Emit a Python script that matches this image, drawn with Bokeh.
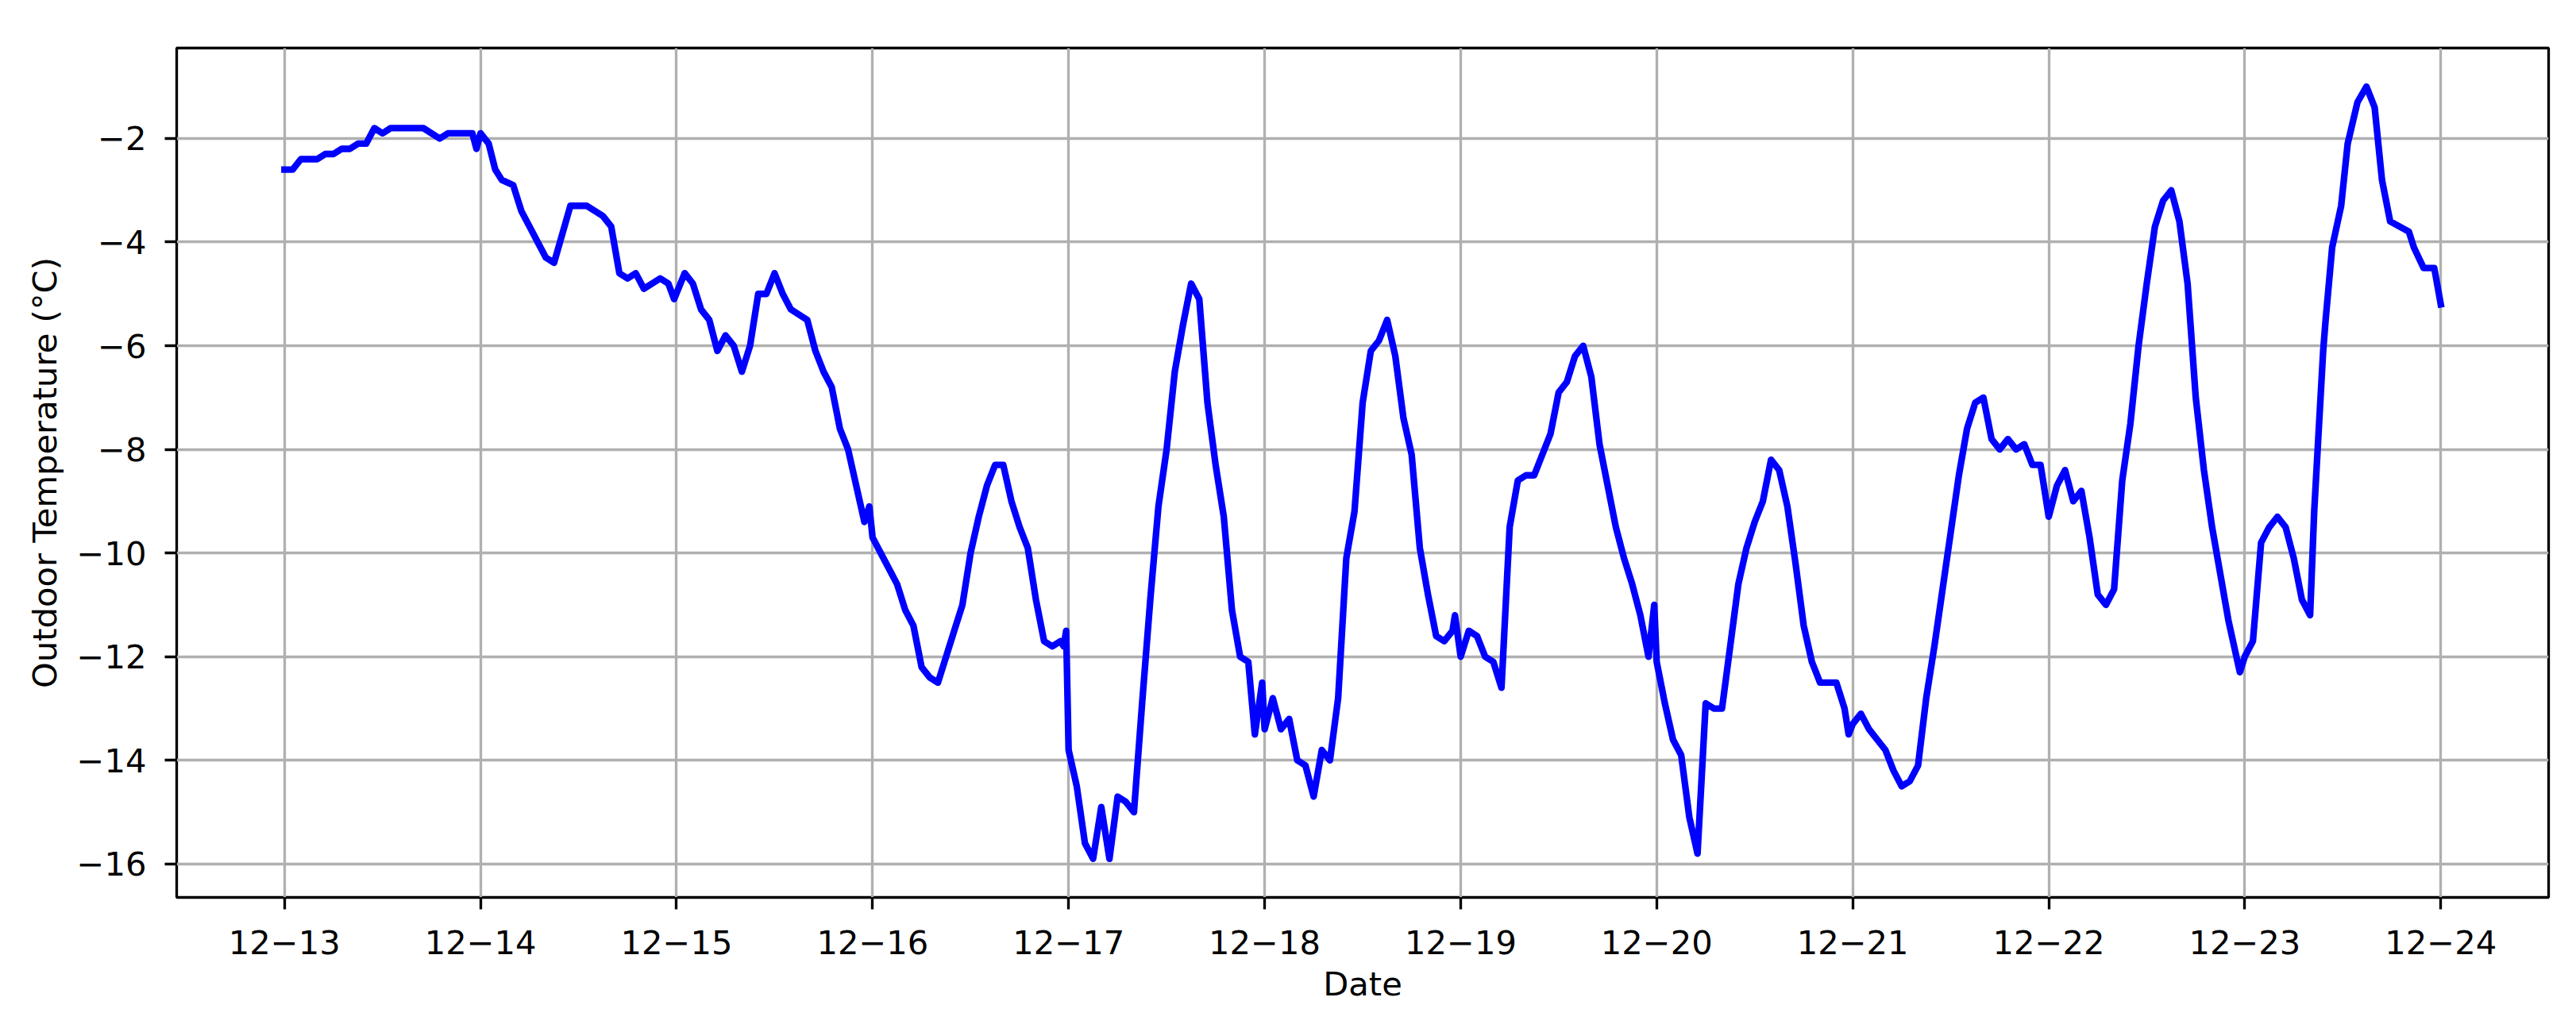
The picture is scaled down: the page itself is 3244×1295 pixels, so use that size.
import pandas as pd
from bokeh.plotting import figure
from bokeh.models import Range1d, FixedTicker, DatetimeTickFormatter, ColumnDataSource
from bokeh.embed import file_html
from bokeh.resources import INLINE

# Data: hours since 12-13 00:00 and outdoor temperature (°C)
start_date = "2023-12-13"
hours = [0, 1, 2, 4, 5, 6, 7, 8, 9, 10, 11, 12, 13, 17, 19, 20, 23, 23.5, 24, 25,
         25.8, 26.6, 28, 29, 30, 31, 32, 33, 35, 37, 38, 39, 40, 41, 42, 43, 44, 46, 47, 47.7,
         49, 50, 51, 52, 53, 54, 55, 56, 57, 58, 59, 60, 61, 62, 64, 65, 66, 67, 68, 69,
         70, 71, 71.6, 72, 73, 74, 75, 76, 77, 78, 79, 80, 81, 82, 83, 84, 85, 86, 87, 88,
         89, 90, 91, 92, 93, 94, 95, 95.4, 95.7, 96, 97, 98, 99, 100, 101, 102, 103, 104, 105,
         106, 107, 108, 109, 110, 111, 112, 113, 114, 115, 116, 117, 118, 118.8, 119.7, 120,
         121, 122, 123, 124, 125, 126, 127, 128, 129, 130, 131, 132, 133, 134, 135, 136, 137,
         138, 139, 140, 141, 142, 143, 143.3, 144, 145, 146, 147, 148, 149, 150, 151, 152, 153,
         155, 156, 157, 158, 159, 160, 161, 162, 163, 164, 165, 166, 167, 167.7, 168, 169,
         170, 171, 172, 173, 174, 175, 176, 177, 178, 179, 180, 181, 182, 183, 184, 185, 186,
         187, 188, 190, 191, 191.5, 192, 193, 194, 195, 196, 197, 198, 199, 200, 201, 202, 203,
         204, 205, 206, 207, 208, 209, 210, 211, 212, 213, 214, 215, 216, 217, 218, 219, 220,
         221, 222, 223, 224, 225, 226, 227, 228, 229, 230, 231, 232, 233, 234, 235, 236, 237,
         238, 239.4, 240, 241, 242, 243, 244, 245, 246, 247, 248, 248.5, 249.1, 249.6, 249.9,
         250.7, 251.8, 252.6, 253.8, 254.9, 255.9, 256.8, 257.8, 260.1, 260.7, 261.9, 263.2, 264]
temps = [-2.6, -2.6, -2.4, -2.4, -2.3, -2.3, -2.2, -2.2, -2.1, -2.1, -1.8, -1.9, -1.8, -1.8, -2.0, -1.9, -1.9, -2.2, -1.9, -2.1,
         -2.6, -2.8, -2.9, -3.4, -3.7, -4.0, -4.3, -4.4, -3.3, -3.3, -3.4, -3.5, -3.7, -4.6, -4.7, -4.6, -4.9, -4.7, -4.8, -5.1,
         -4.6, -4.8, -5.3, -5.5, -6.1, -5.8, -6.0, -6.5, -6.0, -5.0, -5.0, -4.6, -5.0, -5.3, -5.5, -6.1, -6.5, -6.8, -7.6, -8.0,
         -8.7, -9.4, -9.1, -9.7, -10.0, -10.3, -10.6, -11.1, -11.4, -12.2, -12.4, -12.5, -12.0, -11.5, -11.0, -10.0, -9.3, -8.7, -8.3, -8.3,
         -9.0, -9.5, -9.9, -10.9, -11.7, -11.8, -11.7, -11.8, -11.5, -13.8, -14.5, -15.6, -15.9, -14.9, -15.9, -14.7, -14.8, -15.0, -12.9,
         -10.9, -9.1, -8.0, -6.5, -5.6, -4.8, -5.1, -7.1, -8.3, -9.3, -11.1, -12.0, -12.1, -13.5, -12.5, -13.4,
         -12.8, -13.4, -13.2, -14.0, -14.1, -14.7, -13.8, -14.0, -12.8, -10.1, -9.2, -7.1, -6.1, -5.9, -5.5, -6.2, -7.4,
         -8.1, -9.9, -10.8, -11.6, -11.7, -11.5, -11.2, -12.0, -11.5, -11.6, -12.0, -12.1, -12.6, -9.5, -8.6, -8.5, -8.5,
         -7.7, -6.9, -6.7, -6.2, -6.0, -6.6, -7.9, -8.7, -9.5, -10.1, -10.6, -11.2, -12.0, -11.0, -12.1, -12.9,
         -13.6, -13.9, -15.1, -15.8, -12.9, -13.0, -13.0, -11.8, -10.6, -9.9, -9.4, -9.0, -8.2, -8.4, -9.1, -10.2, -11.4,
         -12.1, -12.5, -12.5, -13.0, -13.5, -13.3, -13.1, -13.4, -13.6, -13.8, -14.2, -14.5, -14.4, -14.1, -12.8, -11.8, -10.7,
         -9.6, -8.5, -7.6, -7.1, -7.0, -7.8, -8.0, -7.8, -8.0, -7.9, -8.3, -8.3, -9.3, -8.7, -8.4, -9.0, -8.8,
         -9.7, -10.8, -11.0, -10.7, -8.6, -7.5, -6.0, -4.8, -3.7, -3.2, -3.0, -3.6, -4.8, -7.0, -8.4, -9.5, -10.4,
         -11.3, -12.3, -12.0, -11.7, -9.8, -9.5, -9.3, -9.5, -10.1, -10.9, -11.2, -9.2, -7.5, -6.1, -5.5,
         -4.1, -3.3, -2.1, -1.3, -1.0, -1.4, -2.8, -3.6, -3.8, -4.1, -4.5, -4.5, -5.2]
tick_days = ["12-13", "12-14", "12-15", "12-16", "12-17", "12-18", "12-19",
             "12-20", "12-21", "12-22", "12-23", "12-24"]

t0 = pd.Timestamp(start_date)
times = [t0 + pd.Timedelta(hours=h) for h in hours]
src = ColumnDataSource(data=dict(t=times, temp=temps))

day_ms = 86400000.0
t0_ms = t0.value / 1e6
tick_ms = [(pd.Timestamp("2023-" + d).value / 1e6) for d in tick_days]

span_days = (tick_ms[-1] - t0_ms) / day_ms
ymin, ymax = min(temps), max(temps)
ypad = 0.05 * (ymax - ymin)

FONT = "DejaVu Sans"
FS = "41.67px"
LW = 3.33

p = figure(width=3228, height=1279, x_axis_type="datetime",
           output_backend="svg", toolbar_location=None,
           min_border_left=222, min_border_right=19, min_border_top=60, min_border_bottom=149)
p.x_range = Range1d(t0_ms - 0.05 * span_days * day_ms, tick_ms[-1] + 0.05 * span_days * day_ms)
p.y_range = Range1d(ymin - ypad, ymax + ypad)

p.line(x="t", y="temp", source=src, line_color="#0000ff", line_width=8.33,
       line_join="round", line_cap="square")

fmt = "%m\u2212%d"
p.xaxis.ticker = FixedTicker(ticks=tick_ms)
p.xaxis.formatter = DatetimeTickFormatter(microseconds=fmt, milliseconds=fmt, seconds=fmt,
                                          minsec=fmt, minutes=fmt, hourmin=fmt, hours=fmt,
                                          days=fmt, months=fmt, years=fmt)
p.yaxis.ticker = FixedTicker(ticks=[-16, -14, -12, -10, -8, -6, -4, -2])

p.xaxis.axis_label = "Date"
p.yaxis.axis_label = "Outdoor Temperature (°C)"

for ax in (p.xaxis[0], p.yaxis[0]):
    ax.axis_line_color = None
    ax.major_tick_line_color = "black"
    ax.major_tick_line_width = LW
    ax.major_tick_out = 15
    ax.major_tick_in = 0
    ax.minor_tick_line_color = None
    ax.major_label_text_font = FONT
    ax.major_label_text_font_size = FS
    ax.major_label_text_color = "black"
    ax.axis_label_text_font = FONT
    ax.axis_label_text_font_size = FS
    ax.axis_label_text_font_style = "normal"
    ax.axis_label_text_color = "black"

p.xaxis[0].major_label_standoff = 26
p.xaxis[0].axis_label_standoff = 10
p.yaxis[0].major_label_standoff = 23
p.yaxis[0].axis_label_standoff = 13

p.grid.grid_line_color = "#b0b0b0"
p.grid.grid_line_width = LW
p.outline_line_color = "black"
p.outline_line_width = LW
p.background_fill_color = "white"
p.border_fill_color = "white"

open("out.html", "w").write(file_html(p, INLINE))
